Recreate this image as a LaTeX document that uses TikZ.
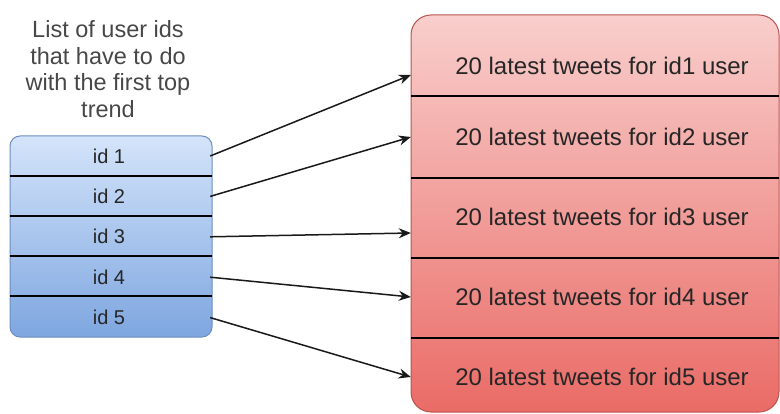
\documentclass[tikz,border=0pt]{standalone}
\usepackage{fontspec}
\setmainfont{Liberation Sans}
\usetikzlibrary{arrows.meta}
\usetikzlibrary{positioning}
\definecolor{idtop}{HTML}{D4E4FA}
\definecolor{idbot}{HTML}{7EA6E0}
\definecolor{idline}{HTML}{6C8EBF}
\definecolor{twtop}{HTML}{F8CECC}
\definecolor{twbot}{HTML}{EA6B66}
\definecolor{twline}{HTML}{B85450}
\tikzset{>={Stealth[length=12pt,width=10pt]}}
\tikzstyle{idrow} = [draw=none, inner sep=0, minimum width=202pt, minimum height=40pt, font=\fontsize{20}{24}\selectfont, text=black!85]
\tikzstyle{twrow} = [draw=none, inner sep=0, minimum width=382pt, minimum height=60pt, font=\fontsize{24}{28}\selectfont, text=black!85]
\tikzstyle{link} = [->, line width=1.5pt, black!90]

\begin{document}
\begin{tikzpicture}[x=1pt, y=1pt]
\useasboundingbox (0,0) rectangle (780,413);
% list of ids
\shade [rounded corners=10pt, top color=idtop, bottom color=idbot, draw=idline, line width=1pt] (10,277) rectangle (212,76);
\foreach \y in {237,197,157,117} \draw [line width=1.2pt] (10,\y) -- (212,\y);
\node [draw=none, align=center, font=\fontsize{23.5}{26.5}\selectfont, text=black!72] (title) at (108,344) {List of user ids\\that have to do\\with the first top\\trend};
\node [idrow] (id1) at (109,257) {id 1};
\node [idrow, below=0pt of id1] (id2) {id 2};
\node [idrow, below=0pt of id2] (id3) {id 3};
\node [idrow, below=0pt of id3] (id4) {id 4};
\node [idrow, below=0pt of id4] (id5) {id 5};
% tweets
\shade [rounded corners=20pt, top color=twtop, bottom color=twbot, draw=twline, line width=1pt] (411,398) rectangle (779,1);
\foreach \y in {317,235,155,75} \draw [line width=1.2pt] (411,\y) -- (779,\y);
\node [twrow] (tw1) at (602,347) {20 latest tweets for id1 user};
\node [twrow] (tw2) at (602,276) {20 latest tweets for id2 user};
\node [twrow] (tw3) at (602,196) {20 latest tweets for id3 user};
\node [twrow] (tw4) at (602,116) {20 latest tweets for id4 user};
\node [twrow] (tw5) at (602,36) {20 latest tweets for id5 user};
% links
\draw [link] (id1.east) to ([yshift=-9pt]tw1.west);
\draw [link] (id2.east) to (tw2.west);
\draw [link] (id3.east) to ([yshift=-16pt]tw3.west);
\draw [link] (id4.east) to (tw4.west);
\draw [link] (id5.east) to (tw5.west);
\end{tikzpicture}
\end{document}
